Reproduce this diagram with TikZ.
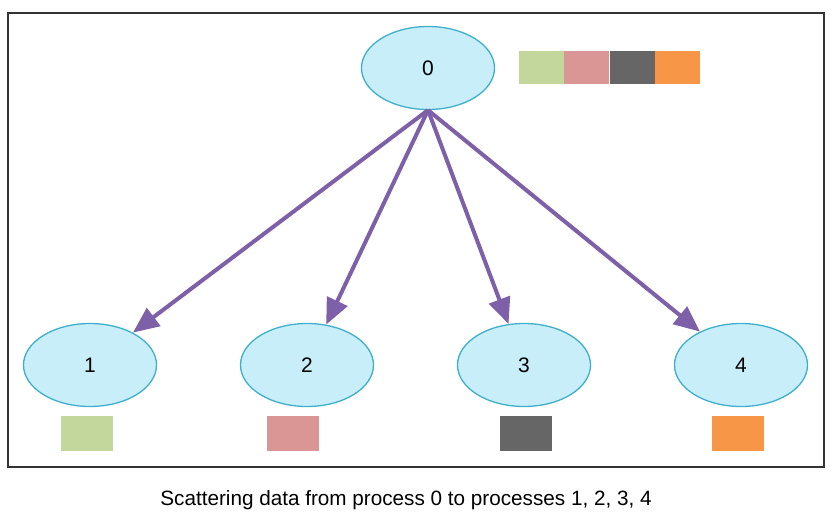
\documentclass[tikz,border=0pt]{standalone}
\usepackage{fontspec}
\setmainfont{Liberation Sans}
\usetikzlibrary{arrows.meta, shapes.geometric, positioning}
\definecolor{procfill}{HTML}{C8EEFA}
\definecolor{procdraw}{HTML}{3FAFCB}
\definecolor{sendcol}{HTML}{7E60A8}
\definecolor{dataA}{HTML}{C3D69B}
\definecolor{dataB}{HTML}{D99694}
\definecolor{dataC}{HTML}{666666}
\definecolor{dataD}{HTML}{F79646}

\begin{document}
\begin{tikzpicture}[x=1pt, y=-1pt,
  proc/.style={ellipse, draw=procdraw, fill=procfill, line width=1.3pt,
    minimum width=133pt, minimum height=83pt, inner sep=0pt, font=\fontsize{21}{25}\selectfont},
  send/.style={draw=sendcol, line width=4pt, -{Triangle[length=26pt,width=22pt]}},
  chunk/.style={minimum width=52pt, minimum height=35pt, inner sep=0pt}
]
  \useasboundingbox (0,0) rectangle (832,516);

  % Frame
  \draw[line width=1.5pt, black!80] (8,13) rectangle (824,467);

  % Root process and its full buffer
  \node[proc] (p0) at (428,68) {0};
  \node[chunk, fill=dataA, minimum width=45pt, minimum height=33pt] (b1) at (541.5,67.5) {};
  \node[chunk, fill=dataB, minimum width=45pt, minimum height=33pt, right=0pt of b1] (b2) {};
  \node[chunk, fill=dataC, minimum width=45pt, minimum height=33pt, right=0pt of b2] (b3) {};
  \node[chunk, fill=dataD, minimum width=45pt, minimum height=33pt, right=0pt of b3] (b4) {};

  % Receiving processes
  \node[proc] (p1) at (90,365) {1};
  \node[proc] (p2) at (307,365) {2};
  \node[proc] (p3) at (524,365) {3};
  \node[proc] (p4) at (741,365) {4};

  % Received chunks
  \node[chunk, fill=dataA] (c1) at (87,433.5) {};
  \node[chunk, fill=dataB] (c2) at (293,433.5) {};
  \node[chunk, fill=dataC] (c3) at (525.5,433.5) {};
  \node[chunk, fill=dataD] (c4) at (738,433.5) {};

  % Scatter arrows
  \foreach \k in {1,...,4}
    \draw[send] (p0.south) -- (p\k);

  % Caption
  \node[font=\fontsize{20.7}{24}\selectfont] (cap) at (406,500) {Scattering data from process 0 to processes 1, 2, 3, 4};
\end{tikzpicture}
\end{document}
